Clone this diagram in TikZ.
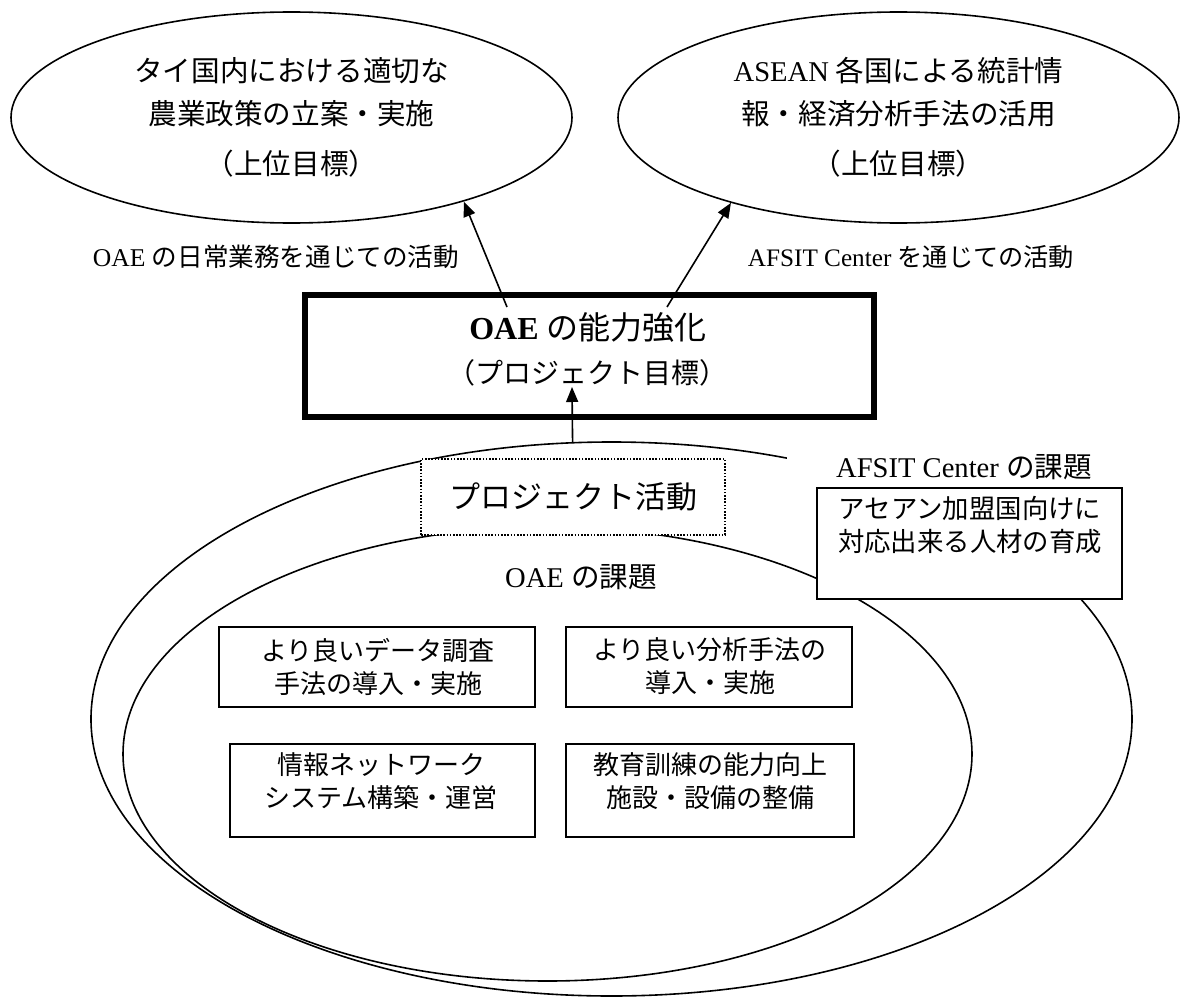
\documentclass[tikz,border=0pt]{standalone}
\usepackage{fontspec}
\setmainfont{Liberation Serif}
\newfontfamily\jp{Noto Sans CJK JP}
\usetikzlibrary{shapes.geometric,arrows.meta}
\begin{document}
\begin{tikzpicture}[x=1pt,y=-1pt,
  ln/.style={line width=1.6pt},
  goalell/.style={ellipse, draw, ln, inner sep=0pt, align=center,
    minimum width=561pt, minimum height=211pt,
    font=\fontsize{28.6}{43}\selectfont\jp},
  bigell/.style={ellipse, draw, ln, inner sep=0pt},
  arr/.style={ln, -{Triangle[length=15pt,width=12pt]}},
  taskbox/.style={rectangle, draw, ln, fill=white, inner sep=0pt},
  txt/.style={inner sep=0pt, align=center},
  tasktxt/.style={txt, font=\fontsize{26}{33}\selectfont\jp}]

\useasboundingbox (0,0) rectangle (1181,998);

% upper goals
\node[goalell] (g1) at (291.5,117.5)
  {タイ国内における適切な\\農業政策の立案・実施\\[7pt]（上位目標）};
\node[goalell] (g2) at (898.5,117.5)
  {{\rmfamily ASEAN} 各国による統計情\\報・経済分析手法の活用\\[7pt]（上位目標）};

% arrow labels
\node[txt, font=\fontsize{25.6}{30}\selectfont] (lab1) at (276,257)
  {OAE {\jp の日常業務を通じての活動}};
\node[txt, font=\fontsize{25.2}{30}\selectfont] (lab2) at (911,257)
  {AFSIT Center {\jp を通じての活動}};

% big ellipses
\node[bigell, minimum width=1041pt, minimum height=554pt] (outer) at (611.5,719) {};
\node[bigell, minimum width=849pt, minimum height=454pt] (inner) at (547.5,754) {};

% project activity (dotted)
\node[draw, line width=1.6pt, dash pattern=on 1.6pt off 1.6pt, fill=white,
      minimum width=304pt, minimum height=76pt, inner sep=0pt,
      font=\fontsize{31}{36}\selectfont\jp] (act) at (573,497) {プロジェクト活動};

% AFSIT label and box
\node[fill=white, inner sep=0pt, minimum width=354pt, minimum height=42pt,
      font=\fontsize{28.6}{32}\selectfont] (afl) at (964,467) {AFSIT Center {\jp の課題}};
\node[taskbox, minimum width=305pt, minimum height=111pt] (afb) at (969.5,543.5) {};
\node[txt, font=\fontsize{26.4}{33}\selectfont\jp] (aft) at (970,525.5)
  {アセアン加盟国向けに\\対応出来る人材の育成};

% OAE tasks
\node[txt, font=\fontsize{28.6}{32}\selectfont] (oael) at (581,577) {OAE {\jp の課題}};

\node[taskbox, minimum width=316pt, minimum height=80pt] (b1) at (377,667) {};
\node[tasktxt] (t1) at (378,666.5) {より良いデータ調査\\手法の導入・実施};
\node[taskbox, minimum width=286pt, minimum height=80pt] (b2) at (709,667) {};
\node[tasktxt] (t2) at (710,666.5) {より良い分析手法の\\導入・実施};
\node[taskbox, minimum width=305pt, minimum height=93pt] (b3) at (382.5,790.5) {};
\node[tasktxt] (t3) at (381,781.5) {情報ネットワーク\\システム構築・運営};
\node[taskbox, minimum width=288pt, minimum height=93pt] (b4) at (710,790.5) {};
\node[tasktxt] (t4) at (710,781.5) {教育訓練の能力向上\\施設・設備の整備};

% project goal
\node[draw, line width=6.7pt, minimum width=569pt, minimum height=122pt, inner sep=0pt] (goal) at (589.5,356) {};
\node[txt, font=\fontsize{32}{36}\selectfont] (goalA) at (588,327) {\textbf{OAE} {\jp の能力強化}};
\node[txt, font=\fontsize{28}{32}\selectfont\jp] (goalB) at (587,373) {（プロジェクト目標）};

% arrows
\coordinate (la) at (507,307);
\coordinate (ra) at (667,307);
\coordinate (mtip) at (572,387);
\draw[arr] (la) -- (g1.-26.9);
\draw[arr] (ra) -- (g2.-153.4);
\draw[arr] (outer.98.1) -- (mtip);
\end{tikzpicture}
\end{document}
